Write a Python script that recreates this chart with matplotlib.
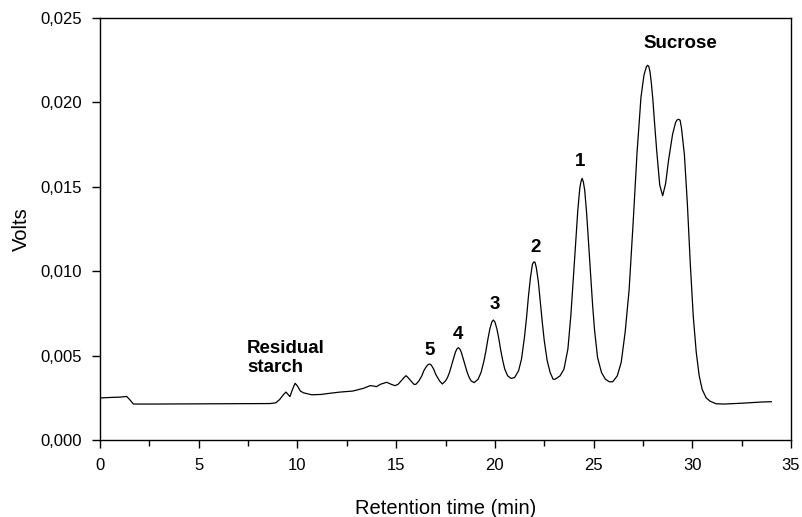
import matplotlib
matplotlib.use('Agg')
import matplotlib.pyplot as plt
from matplotlib.ticker import MultipleLocator, FuncFormatter

plt.rcParams['font.family'] = ['Liberation Sans', 'DejaVu Sans']

# retention time (min) and detector signal (V)
time_min = [
    0.0, 0.5, 1.0, 1.35, 1.5, 1.69, 2.5, 5.0, 8.0, 8.6, 8.9, 9.1, 9.3, 9.42,
    9.62, 9.75, 9.88, 10.0, 10.15, 10.3, 10.72, 11.2, 11.65, 12.16, 12.8,
    13.34, 13.68, 13.85, 14.0, 14.2, 14.52, 14.75, 14.94, 15.1, 15.25, 15.4,
    15.5, 15.6, 15.75, 15.9, 16.0, 16.15, 16.3, 16.4, 16.5, 16.6, 16.67, 16.75,
    16.8, 16.9, 17.0, 17.1, 17.2, 17.34, 17.5, 17.6, 17.7, 17.8, 17.9, 18.0,
    18.08, 18.15, 18.22, 18.3, 18.4, 18.5, 18.6, 18.7, 18.8, 18.95, 19.15,
    19.3, 19.45, 19.55, 19.65, 19.75, 19.85, 19.92, 20.0, 20.1, 20.2, 20.3,
    20.4, 20.5, 20.65, 20.82, 21.0, 21.2, 21.35, 21.5, 21.6, 21.7, 21.8,
    21.9, 21.95, 21.99, 22.04, 22.1, 22.2, 22.3, 22.4, 22.5, 22.65, 22.8,
    22.95, 23.05, 23.3, 23.5, 23.7, 23.85, 24.0, 24.1, 24.2, 24.3, 24.36,
    24.42, 24.48, 24.55, 24.65, 24.75, 24.85, 24.95, 25.05, 25.2, 25.4, 25.6,
    25.8, 25.97, 26.2, 26.4, 26.6, 26.8, 27.0, 27.2, 27.4, 27.55, 27.62,
    27.68, 27.74, 27.8, 27.86, 27.93, 28.0, 28.1, 28.2, 28.35, 28.5, 28.65,
    28.8, 29.0, 29.15, 29.22, 29.3, 29.38, 29.45, 29.6, 29.75, 29.9, 30.05,
    30.2, 30.35, 30.5, 30.7, 30.9, 31.2, 31.6, 32.5, 33.5, 34.0,
]
volts = [
    0.00249, 0.00252, 0.00254, 0.00258, 0.0024, 0.00213, 0.00213, 0.00214,
    0.00215, 0.00216, 0.0022, 0.0024, 0.0027, 0.00284,
    0.00257, 0.0030, 0.00336, 0.0032, 0.0029, 0.0028, 0.00268, 0.0027,
    0.00277, 0.00284, 0.0029,
    0.00306, 0.00322, 0.0032, 0.00316, 0.0033, 0.00342, 0.0033, 0.00322,
    0.0033, 0.0035, 0.0037,
    0.00381, 0.0037, 0.0035, 0.0033, 0.0033, 0.0035, 0.0038, 0.0041, 0.0043,
    0.00445, 0.0045, 0.00447,
    0.0044, 0.0042, 0.0039, 0.0037, 0.0035, 0.00332, 0.0035, 0.0037, 0.0040,
    0.0044, 0.0048, 0.0052,
    0.0054, 0.00547, 0.0054, 0.0052, 0.0048, 0.0044, 0.0040, 0.0037, 0.0035,
    0.0034, 0.0036,
    0.0040, 0.0047, 0.0053, 0.0060, 0.0066, 0.0070, 0.00711, 0.0070, 0.0066,
    0.0060, 0.0053,
    0.0047, 0.0042, 0.0038, 0.00365, 0.0037, 0.0041, 0.0048, 0.0061, 0.0072,
    0.0085, 0.0096,
    0.0104, 0.01052, 0.01056, 0.0105, 0.0102, 0.0094, 0.0082, 0.0070, 0.0059,
    0.0047, 0.0040,
    0.0036, 0.0036, 0.0038, 0.0042, 0.0054, 0.0074, 0.0100, 0.0118, 0.0136,
    0.0149, 0.0153,
    0.0155, 0.0153, 0.0148, 0.0134, 0.0116, 0.0098, 0.0080, 0.0065, 0.0049,
    0.0040, 0.0036,
    0.00345, 0.00345, 0.0038, 0.0046, 0.0064, 0.0089, 0.0128, 0.0170, 0.0203,
    0.0216, 0.0219,
    0.02212, 0.0222, 0.02212, 0.0218, 0.0211, 0.0202, 0.0186, 0.0171, 0.0151,
    0.01447, 0.0152,
    0.0166, 0.0181, 0.0188, 0.01895, 0.0190, 0.01895, 0.0185, 0.0169, 0.0140,
    0.0104, 0.0073,
    0.0052, 0.0038, 0.0030, 0.0025, 0.0023, 0.00215, 0.00213, 0.00218,
    0.00225, 0.00227,
]

# peak labels: text, x (min), y (V)
peak_labels = ['Residual\nstarch', '5', '4', '3', '2', '1', 'Sucrose']
label_x = [7.45, 16.72, 18.14, 20.0, 22.04, 24.32, 29.38]
label_y = [0.00486, 0.00533, 0.00628, 0.0080, 0.01143, 0.01647, 0.02346]

fig = plt.figure(figsize=(8.02, 5.17), dpi=100)
ax = fig.add_axes([0.1247, 0.1489, 0.8616, 0.8163])

ax.plot(time_min, volts, color='black', linewidth=0.9)

for txt, lx, ly in zip(peak_labels, label_x, label_y):
    ha = 'left' if txt.startswith('Residual') else 'center'
    ax.text(lx, ly, txt, ha=ha, va='center', fontsize=13.5,
            fontweight='bold', linespacing=1.15)

ax.set_xlim(0, 35)
ax.set_ylim(0, 0.025)
ax.xaxis.set_major_locator(MultipleLocator(5))
ax.xaxis.set_minor_locator(MultipleLocator(2.5))
ax.yaxis.set_major_locator(MultipleLocator(0.005))
ax.yaxis.set_major_formatter(FuncFormatter(lambda v, p: f'{v:.3f}'.replace('.', ',')))

ax.tick_params(axis='both', which='major', direction='out', length=6,
               width=1, labelsize=12, pad=7)
ax.tick_params(axis='x', which='minor', direction='out', length=4, width=1)
for s in ax.spines.values():
    s.set_linewidth(1)

ax.set_xlabel('Retention time (min)', fontsize=14.5, labelpad=19)
ax.set_ylabel('Volts', fontsize=14.5, labelpad=7)

fig.savefig('out.png', dpi=100)
